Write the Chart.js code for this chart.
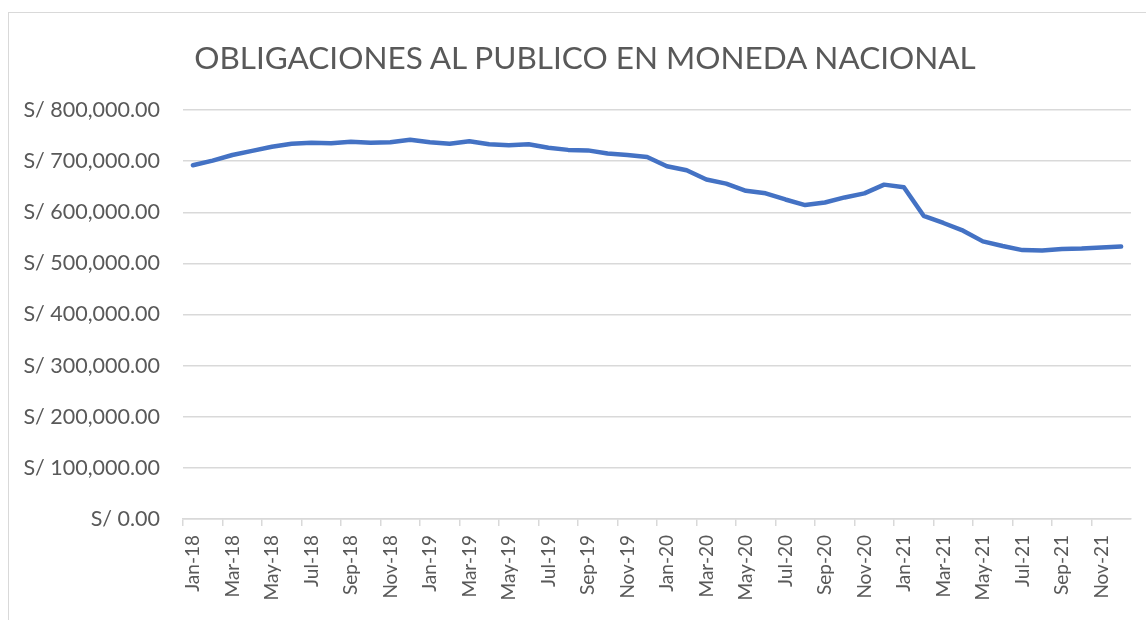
<!DOCTYPE html>
<html>
<head>
<meta charset="utf-8">
<script src="https://cdn.jsdelivr.net/npm/chart.js@4"></script>
<style>
  html, body { margin: 0; padding: 0; background: #fff; overflow: hidden; }
  #wrap { position: relative; width: 1146px; height: 620px; }
  #frame { position: absolute; left: 8px; top: 12px; width: 1160px; height: 640px; border: 1px solid #d9d9d9; }
  #chart { position: absolute; left: 0; top: 0; }
  #title {
    position: absolute; left: 185px; width: 800px; top: 37px;
    text-align: center; white-space: nowrap;
    font-family: Lato, "Open Sans", sans-serif; font-size: 31.5px; line-height: 40px;
    color: #595959;
  }
</style>
</head>
<body>
<div id="wrap">
  <div id="frame"></div>
  <canvas id="chart" width="1146" height="620"></canvas>
  <div id="title">OBLIGACIONES AL PUBLICO EN MONEDA NACIONAL</div>
</div>
<script>
// ===================================
// Obligaciones al público - moneda nacional
// ===================================

const monthNames = ['Jan', 'Feb', 'Mar', 'Apr', 'May', 'Jun', 'Jul', 'Aug', 'Sep', 'Oct', 'Nov', 'Dec'];
const years = ['18', '19', '20', '21'];

// one label per month, Jan-18 .. Dec-21
const categories = [];
years.forEach(y => monthNames.forEach(m => categories.push(m + '-' + y)));

// monthly balance (S/)
const obligaciones = [
    692000, 701000, 712000, 720000, 728000, 734000, 736000, 735000, 738000, 736000, 737000, 742000,
    737000, 734000, 739000, 733000, 731000, 733000, 726000, 722000, 721000, 715000, 712000, 708000,
    690000, 682000, 664000, 656000, 642000, 637000, 625000, 614000, 619000, 629000, 637000, 654000,
    649000, 593000, 579000, 564000, 543000, 534000, 526000, 525000, 528000, 529000, 531000, 533000
];

const yTicks = [0, 100000, 200000, 300000, 400000, 500000, 600000, 700000, 800000];

const textColor = '#595959';
const gridColor = '#d9d9d9';
const fontFamily = 'Lato, "Open Sans", sans-serif';

function formatSoles(v) {
    return 'S/ ' + Number(v).toLocaleString('en-US', { minimumFractionDigits: 2, maximumFractionDigits: 2 });
}

new Chart(document.getElementById('chart'), {
    type: 'line',
    data: {
        labels: categories,
        datasets: [{
            label: 'Obligaciones',
            data: obligaciones,
            borderColor: '#4472C4',
            backgroundColor: '#4472C4',
            borderWidth: 4.5,
            borderJoinStyle: 'round',
            borderCapStyle: 'round',
            pointRadius: 0,
            tension: 0,
            fill: false
        }]
    },
    options: {
        responsive: false,
        animation: false,
        layout: {
            padding: { left: 0, right: 15, top: 110, bottom: 0 }
        },
        plugins: {
            legend: { display: false },
            tooltip: { enabled: false },
            title: { display: false }
        },
        scales: {
            x: {
                offset: true,
                border: { display: true, color: gridColor, width: 1.5 },
                grid: {
                    display: true,
                    offset: true,
                    drawOnChartArea: false,
                    tickLength: 7,
                    lineWidth: 1.5,
                    tickColor: ctx => (ctx.index % 2 === 0 ? gridColor : 'rgba(0,0,0,0)')
                },
                ticks: {
                    autoSkip: false,
                    minRotation: 90,
                    maxRotation: 90,
                    color: textColor,
                    font: { family: fontFamily, size: 19, lineHeight: 1 },
                    padding: 9,
                    callback: function(value, index) {
                        return index % 2 === 0 ? this.getLabelForValue(value) : '';
                    }
                },
                afterFit: scale => {
                    scale.height = 101;
                    // keep the plot exactly as wide as the original
                    scale.paddingLeft = 0;
                    scale.paddingRight = 0;
                }
            },
            y: {
                min: 0,
                max: 800000,
                afterBuildTicks: scale => { scale.ticks = yTicks.map(v => ({ value: v })); },
                border: { display: false },
                grid: { color: gridColor, lineWidth: 1.5, drawTicks: false },
                ticks: {
                    color: textColor,
                    font: { family: fontFamily, size: 21.5 },
                    padding: 23,
                    callback: v => formatSoles(v)
                },
                afterFit: scale => { scale.width = 183; }
            }
        }
    }
});
</script>
</body>
</html>
